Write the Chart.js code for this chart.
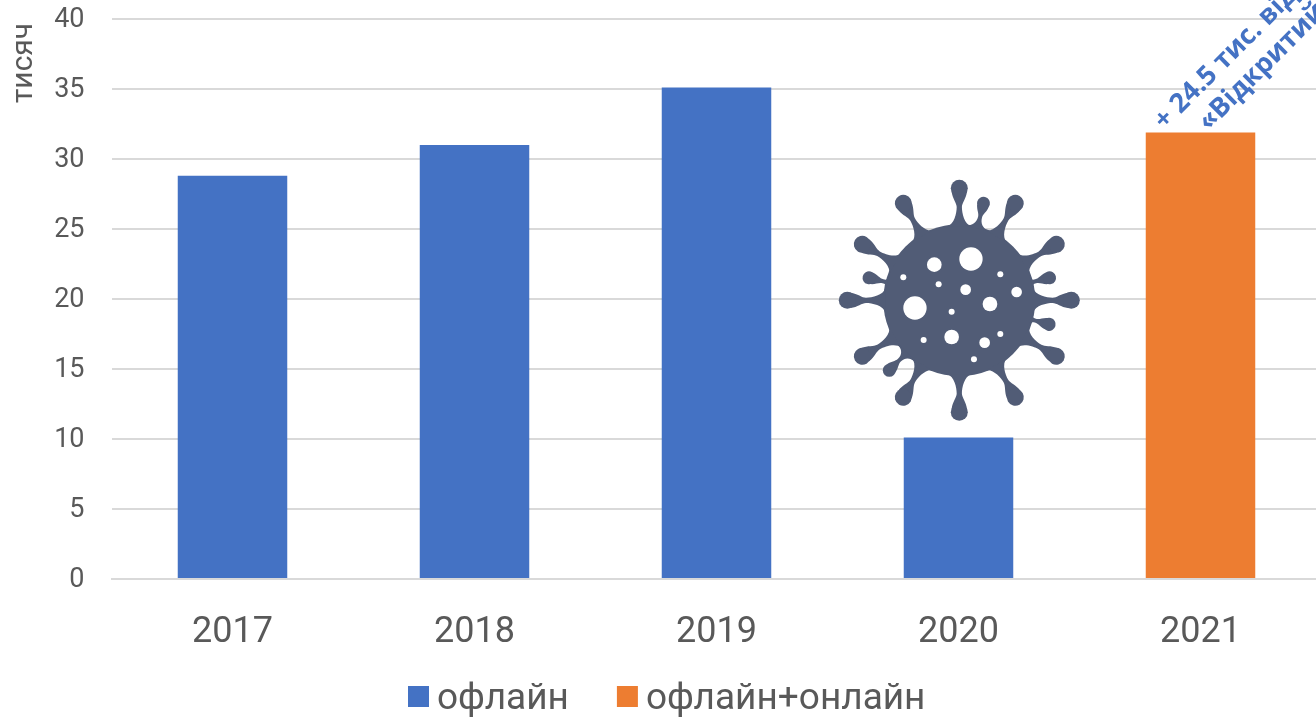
<!DOCTYPE html>
<html><head><meta charset="utf-8">
<style>html,body{margin:0;padding:0;background:#fff;overflow:hidden;width:1316px;height:717px}
#w{position:absolute;left:0;top:0;width:1335px;height:717px}canvas{display:block}</style>
<script src="https://cdn.jsdelivr.net/npm/chart.js@4"></script></head>
<body><div id="w"><canvas id="c" width="1335" height="717"></canvas></div>
<script>
const categories=['2017','2018','2019','2020','2021'];
const offlineValues=[28.8,31,35.1,10.1,null];
const hybridValues=[null,null,null,null,31.9];
const seriesNames=['офлайн','офлайн+онлайн'];
const yTitle='тисяч';
const noteLines=['+ 24.5 тис. від','«Відкритий'];
const FONT='Roboto, sans-serif', GREY='#595959';

const decor={id:'decor',afterDraw(ch){
  const c=ch.ctx,x=ch.scales.x,y=ch.scales.y;
  c.save();
  // axis title
  c.save();c.translate(24,63);c.rotate(-Math.PI/2);c.fillStyle=GREY;c.font='30px '+FONT;c.textAlign='center';c.textBaseline='middle';c.fillText(yTitle,0,0);c.restore();
  // legend row, built from the datasets
  let lx=408;
  c.font='37px '+FONT;c.textBaseline='middle';c.textAlign='left';
  ch.data.datasets.forEach(d=>{
    c.fillStyle=d.backgroundColor;c.fillRect(lx,686,21,21);
    c.fillStyle=GREY;c.fillText(d.label,lx+29,700);
    lx+=29+c.measureText(d.label).width+48;
  });
  // annotation above the 2021 bar
  const ax=x.getPixelForValue(4),ay=y.getPixelForValue(31.9);
  c.fillStyle='#4472C4';c.font='bold 27px "Open Sans", sans-serif';c.textBaseline='alphabetic';c.textAlign='left';
  c.save();c.translate(ax-36,ay-2);c.rotate(-Math.PI/4);c.fillText(noteLines[0],0,0);c.restore();
  c.save();c.translate(ax+8,ay-1);c.rotate(-Math.PI/4);c.fillText(noteLines[1],0,0);c.restore();
  // virus pictogram
  const cx=x.getPixelForValue(3)+0.8,cy=y.getPixelForValue(20)+1.3,body='#515C76';
  c.translate(cx,cy);c.fillStyle=body;
  c.beginPath();c.arc(0,0,76,0,Math.PI*2);c.fill();
  const spike=(deg,r,br,w)=>{
    const n=r-br*2.2;
    c.save();c.rotate(deg*Math.PI/180);
    c.beginPath();c.moveTo(-12,-74);
    c.bezierCurveTo(-5,-76,-w,-n+6,-w,-n);
    c.bezierCurveTo(-w,-n-4,-br*.8,-r+br*1.2,-br*.9,-r+br*.4);
    c.lineTo(br*.9,-r+br*.4);
    c.bezierCurveTo(br*.8,-r+br*1.2,w,-n-4,w,-n);
    c.bezierCurveTo(w,-n+6,5,-76,12,-74);
    c.closePath();c.fill();
    c.beginPath();c.arc(0,-r,br,0,Math.PI*2);c.fill();
    c.restore();};
  for(let a=0;a<360;a+=30)spike(a,112,8.5,2.6);
  [[14,100],[76,93],[105,93],[225,99],[284,93]].forEach(s=>spike(s[0],s[1],6.5,2));
  c.fillStyle='#fff';
  [[453,297,35],[343,314,22],[285,444,35],[437,389,16],[510,432,22],[590,396,16],[541,343,9],[250,352,9],[356,373,9],[395,455,9],[395,531,22],[311,540,9],[494,548,16],[541,522,9],[462,598,9]].forEach(h=>{
    c.beginPath();c.arc((h[0]-418)/3,(h[1]-421)/3,h[2]/3,0,Math.PI*2);c.fill();});
  c.restore();
}};

new Chart(document.getElementById('c'),{
  type:'bar',
  data:{labels:categories,datasets:[
    {label:seriesNames[0],data:offlineValues,backgroundColor:'#4472C4',barPercentage:.4525,categoryPercentage:1,grouped:false},
    {label:seriesNames[1],data:hybridValues,backgroundColor:'#ED7D31',barPercentage:.4525,categoryPercentage:1,grouped:false}
  ]},
  options:{responsive:false,animation:false,
    layout:{padding:{left:0,right:13.5,top:19,bottom:0}},
    plugins:{tooltip:{enabled:false},legend:{display:false}},
    scales:{
      x:{grid:{display:false},border:{color:'#D9D9D9',width:2},
         ticks:{color:GREY,font:{family:FONT,size:36},padding:24,maxRotation:0},
         afterFit:s=>{s.height=138;s.paddingLeft=0;s.paddingRight=0}},
      y:{min:0,max:40,grid:{color:'#D9D9D9',lineWidth:2,drawTicks:false},border:{display:false},
         ticks:{stepSize:5,color:GREY,font:{family:FONT,size:27},padding:27,labelOffset:1.5},
         afterFit:s=>{s.width=111.5;s.paddingTop=0;s.paddingBottom=0}}
    }},
  plugins:[decor]
});
</script></body></html>
